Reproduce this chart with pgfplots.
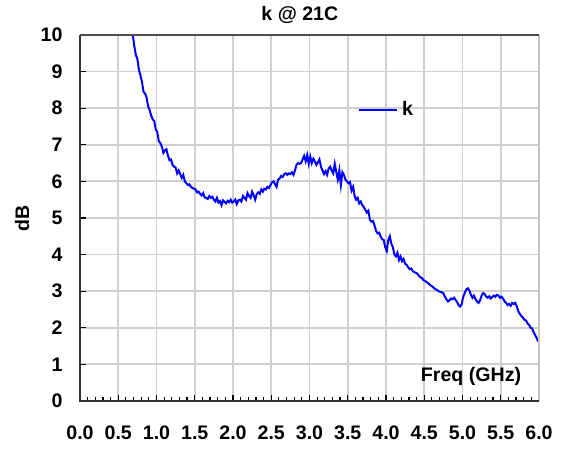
\documentclass[border=0pt]{standalone}
\usepackage{pgfplots}
\pgfplotsset{compat=1.18}
\usepackage{fontspec}
\setmainfont{Liberation Sans}
\begin{document}
\begin{tikzpicture}
\useasboundingbox (-40pt,-24pt) rectangle (241.5pt,200.5pt);
\begin{axis}[
  at={(0,0)}, anchor=south west,
  scale only axis, width=229.5pt, height=183pt,
  xmin=0, xmax=6, ymin=0, ymax=10,
  clip=false,
  font=\fontsize{9.8}{11}\selectfont\bfseries,
  /pgf/number format/assume math mode=true,
  xtick={0,0.5,...,6.01},
  xticklabels={0.0,0.5,1.0,1.5,2.0,2.5,3.0,3.5,4.0,4.5,5.0,5.5,6.0},
  minor x tick num=4,
  ytick={0,1,...,10},
  xtick pos=bottom, ytick pos=left,
  tick align=inside,
  major tick length=3pt, minor tick length=2pt,
  tick style={black, line width=0.6pt},
  grid=major,
  major grid style={gray!38, line width=0.9pt},
  axis line style={draw=none},
  yticklabel style={xshift=-5.2pt},
  xticklabel style={yshift=-9pt},
  ylabel={dB},
  ylabel style={at={(-29pt,91.5pt)}, anchor=center, rotate=0},
  legend style={draw=none, fill=none, at={(rel axis cs:0.605,0.795)}, anchor=west, inner sep=0pt, font=\fontsize{9.8}{11}\selectfont\bfseries},
  legend image code/.code={\draw[#1, line width=1pt] (0pt,0pt) -- (19pt,0pt);},
  after end axis/.code={
    \draw[gray!45, line width=0.9pt] (rel axis cs:1,0) -- (rel axis cs:1,1);
    \draw[black!70, line width=1pt] (rel axis cs:0,1) -- (rel axis cs:1,1);
    \draw[black!80, line width=1.3pt] (rel axis cs:0,-0.003) -- (rel axis cs:0,1);
    \draw[black!80, line width=1.3pt] (rel axis cs:0,0) -- (rel axis cs:1,0);
    \node[anchor=center, font=\fontsize{9.8}{11}\selectfont\bfseries] at ([yshift=10pt]rel axis cs:0.479,1) {k @ 21C};
    \node[anchor=center, font=\fontsize{9.8}{11}\selectfont\bfseries] at (rel axis cs:0.852,0.068) {Freq (GHz)};
  },
]
\addplot[blue, line width=1pt] table {
x y
0.69 10.0
0.71 9.7
0.73 9.45
0.75 9.35
0.77 9.05
0.79 8.9
0.81 8.72
0.83 8.45
0.85 8.4
0.87 8.3
0.89 8.05
0.91 7.95
0.93 7.8
0.95 7.7
0.97 7.65
0.99 7.42
1.01 7.35
1.03 7.1
1.05 7.05
1.07 6.95
1.09 6.78
1.11 6.85
1.13 6.88
1.15 6.7
1.17 6.58
1.19 6.6
1.21 6.45
1.23 6.4
1.25 6.38
1.27 6.22
1.29 6.3
1.31 6.2
1.33 6.1
1.35 6.18
1.37 6.0
1.39 5.95
1.41 5.9
1.43 5.92
1.45 5.85
1.47 5.82
1.49 5.8
1.51 5.78
1.53 5.7
1.55 5.72
1.57 5.66
1.59 5.62
1.61 5.68
1.63 5.56
1.65 5.55
1.67 5.52
1.69 5.6
1.71 5.55
1.73 5.58
1.75 5.5
1.77 5.45
1.79 5.55
1.81 5.42
1.83 5.46
1.85 5.35
1.87 5.48
1.89 5.44
1.91 5.4
1.93 5.47
1.95 5.43
1.97 5.5
1.99 5.42
2.01 5.45
2.03 5.5
2.05 5.38
2.07 5.48
2.09 5.5
2.11 5.45
2.13 5.6
2.15 5.55
2.17 5.5
2.19 5.68
2.21 5.6
2.23 5.55
2.25 5.72
2.27 5.62
2.29 5.5
2.31 5.65
2.33 5.7
2.35 5.66
2.37 5.78
2.39 5.72
2.41 5.8
2.43 5.78
2.45 5.85
2.47 5.82
2.49 5.9
2.51 5.98
2.53 6.0
2.55 5.92
2.57 5.85
2.59 6.05
2.61 6.08
2.63 6.15
2.65 6.12
2.67 6.2
2.69 6.22
2.71 6.18
2.73 6.22
2.75 6.2
2.77 6.25
2.79 6.18
2.81 6.3
2.83 6.45
2.85 6.5
2.87 6.48
2.89 6.5
2.91 6.6
2.93 6.7
2.95 6.55
2.97 6.72
2.99 6.48
3.01 6.68
3.03 6.5
3.05 6.62
3.07 6.55
3.09 6.45
3.11 6.52
3.13 6.6
3.15 6.4
3.17 6.3
3.19 6.2
3.21 6.28
3.23 6.18
3.25 6.35
3.27 6.4
3.29 6.3
3.31 6.22
3.33 6.48
3.35 6.25
3.37 6.05
3.39 6.3
3.41 5.9
3.43 6.25
3.45 6.18
3.47 6.05
3.49 6.0
3.51 5.95
3.53 5.98
3.55 5.75
3.57 5.85
3.59 5.6
3.61 5.5
3.63 5.55
3.65 5.4
3.67 5.45
3.69 5.35
3.71 5.3
3.73 5.22
3.75 5.15
3.77 5.2
3.79 4.95
3.81 4.9
3.83 4.92
3.85 4.8
3.87 4.65
3.89 4.58
3.91 4.6
3.93 4.5
3.95 4.42
3.97 4.4
3.99 4.2
4.01 4.1
4.03 4.4
4.05 4.5
4.07 4.3
4.09 4.2
4.11 4.0
4.13 3.95
4.15 4.05
4.17 3.85
4.19 3.95
4.21 3.82
4.23 3.88
4.25 3.75
4.27 3.72
4.29 3.65
4.31 3.6
4.33 3.62
4.35 3.55
4.37 3.52
4.39 3.5
4.41 3.48
4.43 3.42
4.45 3.38
4.47 3.36
4.49 3.3
4.51 3.28
4.53 3.25
4.55 3.22
4.57 3.18
4.59 3.15
4.61 3.12
4.63 3.08
4.65 3.05
4.67 3.03
4.69 3.0
4.71 2.98
4.73 2.97
4.75 2.94
4.77 2.85
4.79 2.78
4.81 2.72
4.83 2.75
4.85 2.8
4.87 2.78
4.89 2.82
4.91 2.76
4.93 2.7
4.95 2.62
4.97 2.58
4.99 2.65
5.01 2.85
5.03 2.95
5.05 3.05
5.07 3.08
5.09 3.02
5.11 2.9
5.13 2.82
5.15 2.88
5.17 2.78
5.19 2.72
5.21 2.68
5.23 2.75
5.25 2.88
5.27 2.95
5.29 2.92
5.31 2.85
5.33 2.82
5.35 2.86
5.37 2.8
5.39 2.84
5.41 2.88
5.43 2.85
5.45 2.9
5.47 2.88
5.49 2.82
5.51 2.85
5.53 2.8
5.55 2.72
5.57 2.68
5.59 2.62
5.61 2.65
5.63 2.6
5.65 2.68
5.67 2.65
5.69 2.68
5.71 2.58
5.73 2.45
5.75 2.38
5.77 2.32
5.79 2.28
5.81 2.22
5.83 2.2
5.85 2.12
5.87 2.08
5.89 2.0
5.91 1.98
5.93 1.88
5.95 1.8
5.97 1.72
5.99 1.62
};
\addlegendentry{k}
\end{axis}
\end{tikzpicture}
\end{document}
